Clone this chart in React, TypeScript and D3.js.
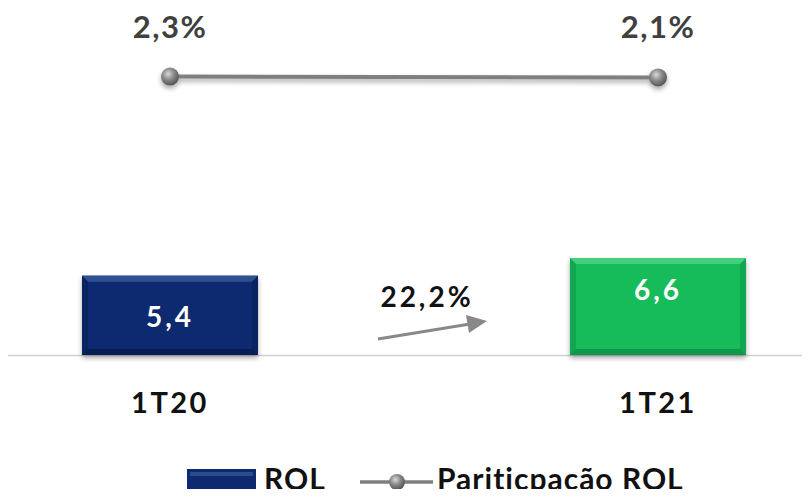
import React from "react";
import * as d3 from "d3";

const categories = ["1T20", "1T21"];
const rolValues = [5.4, 6.6];
const rolLabels = ["5,4", "6,6"];
const partValues = [2.3, 2.1];
const partLabels = ["2,3%", "2,1%"];
const growthLabel = "22,2%";
const legendLabels = ["ROL", "Pariticpação ROL"];
const barColors = ["#0b2a6f", "#12bb5a"];
const barDark = ["#061a4a", "#0a8a40"];
const barLight = ["#3a5a9a", "#4fd687"];

const W = 810;
const H = 497;
const FONT = "Lato, 'Open Sans', sans-serif";

export default function App() {
  const x = d3.scalePoint<string>().domain(categories).range([170, 658]);
  const barW = 176;
  const y = d3.scaleLinear().domain([0, 6.6]).range([355, 258]);
  const y2 = d3.scaleLinear().domain([-60, 5]).range([355, 64.5]);
  const bev = 6;

  const linePath = d3
    .line<number>()
    .x((_, i) => x(categories[i])!)
    .y((d) => y2(d))(partValues);

  return (
    <div style={{ margin: -8 }}>
      <svg width={W} height={H} style={{ display: "block", fontFamily: FONT }}>
        <defs>
          <radialGradient id="ball" cx="40%" cy="35%" r="65%">
            <stop offset="0%" stopColor="#d8d8d8" />
            <stop offset="50%" stopColor="#8a8a8a" />
            <stop offset="100%" stopColor="#555" />
          </radialGradient>
          <filter id="sh" x="-20%" y="-20%" width="140%" height="160%">
            <feGaussianBlur in="SourceAlpha" stdDeviation="2.5" />
            <feOffset dx="0" dy="3" result="b" />
            <feComponentTransfer>
              <feFuncA type="linear" slope="0.35" />
            </feComponentTransfer>
            <feMerge>
              <feMergeNode />
              <feMergeNode in="SourceGraphic" />
            </feMerge>
          </filter>
        </defs>

        {/* baseline */}
        <line x1={0} x2={W} y1={355.5} y2={355.5} stroke="#d0d0d0" strokeWidth={1.5} />

        {/* bars */}
        {categories.map((c, i) => {
          const x0 = x(c)! - barW / 2;
          const x1 = x0 + barW;
          const y0 = y(rolValues[i]);
          const y1 = y(0);
          return (
            <g key={c}>
              <g filter="url(#sh)">
                <rect x={x0} y={y0} width={barW} height={y1 - y0} fill={barColors[i]} />
              </g>
              <polygon
                points={`${x0},${y0} ${x1},${y0} ${x1 - bev},${y0 + bev} ${x0 + bev},${y0 + bev}`}
                fill={barLight[i]}
                opacity={0.8}
              />
              <polygon
                points={`${x0},${y1} ${x1},${y1} ${x1 - bev},${y1 - bev} ${x0 + bev},${y1 - bev}`}
                fill={barDark[i]}
                opacity={0.7}
              />
              <polygon
                points={`${x0},${y0} ${x0 + bev},${y0 + bev} ${x0 + bev},${y1 - bev} ${x0},${y1}`}
                fill={barDark[i]}
                opacity={0.4}
              />
              <polygon
                points={`${x1},${y0} ${x1 - bev},${y0 + bev} ${x1 - bev},${y1 - bev} ${x1},${y1}`}
                fill={barDark[i]}
                opacity={0.4}
              />
              <text
                x={x(c)}
                y={i === 0 ? 327 : y0 + 42}
                textAnchor="middle"
                fill="#fff"
                fontSize={28}
                fontWeight={700}
                letterSpacing={3}
              >
                {rolLabels[i]}
              </text>
            </g>
          );
        })}

        {/* category labels */}
        {categories.map((c) => (
          <text
            key={c}
            x={x(c)}
            y={413}
            textAnchor="middle"
            fill="#111"
            fontSize={29}
            fontWeight={700}
            letterSpacing={2.5}
          >
            {c}
          </text>
        ))}

        {/* growth arrow */}
        <line x1={378} y1={339} x2={470} y2={324} stroke="#888" strokeWidth={3} />
        <polygon points="487,321 466,315 469,333" fill="#888" />
        <text
          x={427}
          y={307}
          textAnchor="middle"
          fill="#111"
          fontSize={28}
          fontWeight={700}
          letterSpacing={3}
        >
          {growthLabel}
        </text>

        {/* participation line */}
        <g filter="url(#sh)">
          <path d={linePath!} fill="none" stroke="#7f7f7f" strokeWidth={4} />
          {partValues.map((v, i) => (
            <circle key={i} cx={x(categories[i])} cy={y2(v)} r={9} fill="url(#ball)" />
          ))}
        </g>
        {partValues.map((v, i) => (
          <text
            key={i}
            x={x(categories[i])}
            y={38}
            textAnchor="middle"
            fill="#404040"
            fontSize={31}
            fontWeight={700}
            letterSpacing={1.5}
          >
            {partLabels[i]}
          </text>
        ))}

        {/* legend */}
        <g>
          <rect x={187} y={469} width={69} height={22} fill={barColors[0]} />
          <rect x={190} y={472} width={63} height={4} fill={barLight[0]} opacity={0.7} />
          <text x={264} y={490} fill="#111" fontSize={30} fontWeight={700} letterSpacing={1}>
            {legendLabels[0]}
          </text>
          <line x1={360} x2={433} y1={482} y2={482} stroke="#7f7f7f" strokeWidth={3.5} />
          <circle cx={397} cy={482} r={8} fill="url(#ball)" />
          <text x={437} y={490} fill="#111" fontSize={30} fontWeight={700} letterSpacing={1}>
            {legendLabels[1]}
          </text>
        </g>
      </svg>
    </div>
  );
}
